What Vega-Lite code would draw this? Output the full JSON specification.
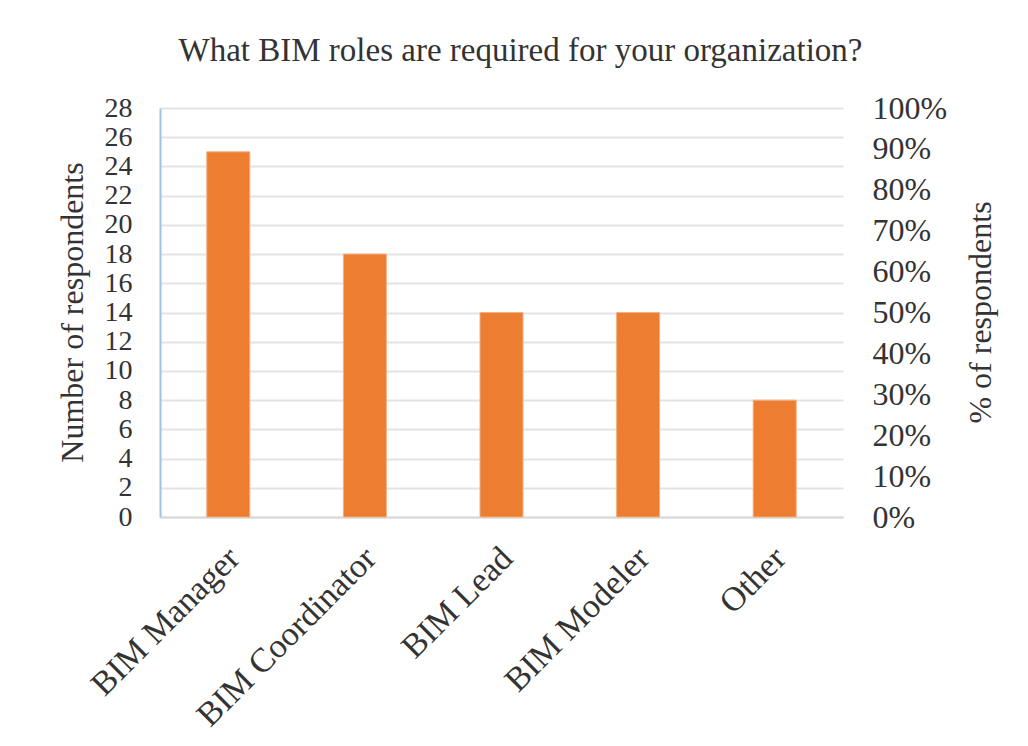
{
  "$schema": "https://vega.github.io/schema/vega-lite/v6.json",
  "autosize": "none",
  "width": 683,
  "height": 409,
  "padding": {"left": 160, "top": 108, "right": 185, "bottom": 229},
  "background": "white",
  "title": {
    "text": "What BIM roles are required for your organization?",
    "font": "Liberation Serif",
    "fontSize": 33,
    "fontWeight": "normal",
    "color": "#333333",
    "anchor": "middle",
    "baseline": "middle",
    "dx": 19,
    "offset": 8
  },
  "data": {
    "values": [
      {"role": "BIM Manager", "count": 25, "pct": 0.893},
      {"role": "BIM Coordinator", "count": 18, "pct": 0.643},
      {"role": "BIM Lead", "count": 14, "pct": 0.5},
      {"role": "BIM Modeler", "count": 14, "pct": 0.5},
      {"role": "Other", "count": 8, "pct": 0.286}
    ]
  },
  "encoding": {
    "x": {
      "field": "role",
      "type": "nominal",
      "sort": null,
      "scale": {"paddingInner": 0.685, "paddingOuter": 0.3425},
      "axis": {
        "title": null,
        "labelAngle": -45,
        "labelFont": "Liberation Serif",
        "labelFontSize": 34,
        "labelColor": "#333333",
        "labelPadding": 24,
        "labelOffset": -6,
        "labelLimit": 500,
        "ticks": false,
        "domainColor": "#D9D9D9",
        "domainWidth": 2,
        "grid": false
      }
    }
  },
  "layer": [
    {
      "mark": {"type": "bar", "color": "#ED7D31", "stroke": "#F4B183", "strokeWidth": 1},
      "encoding": {
        "y": {
          "field": "count",
          "type": "quantitative",
          "scale": {"domain": [0, 28], "nice": false},
          "axis": {
            "title": "Number of respondents",
            "titleFont": "Liberation Serif",
            "titleFontSize": 32,
            "titleFontWeight": "normal",
            "titleColor": "#333333",
            "titleX": -88,
            "titleY": 204,
            "titleAngle": -90,
            "titleAlign": "center",
            "titleBaseline": "middle",
            "values": [0, 2, 4, 6, 8, 10, 12, 14, 16, 18, 20, 22, 24, 26, 28],
            "labelFont": "Liberation Serif",
            "labelFontSize": 28,
            "labelColor": "#333333",
            "labelPadding": 28,
            "ticks": false,
            "domainColor": "#9DC3E6",
            "domainWidth": 2,
            "grid": true,
            "gridColor": "#E3E3E3",
            "gridWidth": 2,
            "labelOverlap": false,
            "labelBound": false,
            "labelFlush": false
          }
        }
      }
    },
    {
      "mark": {"type": "bar", "opacity": 0},
      "encoding": {
        "y": {
          "field": "pct",
          "type": "quantitative",
          "scale": {"domain": [0, 1], "nice": false},
          "axis": {
            "orient": "right",
            "title": "% of respondents",
            "titleFont": "Liberation Serif",
            "titleFontSize": 32,
            "titleFontWeight": "normal",
            "titleColor": "#333333",
            "titleX": 137,
            "titleY": 204,
            "titleAngle": -90,
            "titleAlign": "center",
            "titleBaseline": "middle",
            "format": ".0%",
            "values": [0, 0.1, 0.2, 0.3, 0.4, 0.5, 0.6, 0.7, 0.8, 0.9, 1],
            "labelFont": "Liberation Serif",
            "labelFontSize": 32,
            "labelColor": "#333333",
            "labelPadding": 29,
            "ticks": false,
            "domain": false,
            "grid": false,
            "labelOverlap": false,
            "labelFlush": false
          }
        }
      }
    }
  ],
  "resolve": {"scale": {"y": "independent"}},
  "config": {"view": {"stroke": null}}
}
